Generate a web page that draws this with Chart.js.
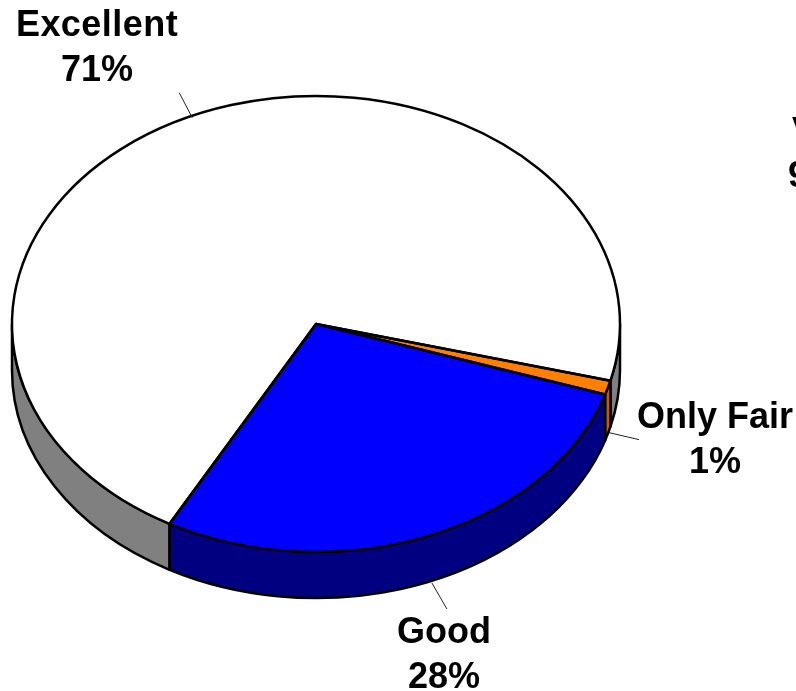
<!DOCTYPE html>
<html>
<head>
<meta charset="utf-8">
<style>
  html, body { margin: 0; padding: 0; background: #fff; overflow: hidden; }
  canvas { display: block; }
</style>
<script src="https://cdn.jsdelivr.net/npm/chart.js@4/dist/chart.umd.min.js"></script>
</head>
<body>
<canvas id="grafico" width="796" height="691"></canvas>
<script>
const categories = ['Excellent', 'Only Fair', 'Good'];
const values = [71, 1, 28];
const topColors = ['#FFFFFF', '#FF8000', '#0000FF'];
const wallColors = ['#808080', '#BF6000', '#000080'];

const squash = 0.75;   // tilt of the pie
const depth = 46;      // height of the wall
const labelFont = 'bold 36px "Liberation Sans", Arial, sans-serif';

// label placement, same order as categories
const leaderNudges = [[-3, 3], [1, -1], [4, 1]];
const leaderEnds = [[-13, -25], [30, 7], [15, 26]];
const labelCenters = [[97, 36], [715, 428], [444, 643]];
const labelSpacing = ['0.45px', '0px', '0px'];
const lineGap = 45;

const pie3d = {
    id: 'pie3d',
    beforeDatasetsDraw(chart) {
        const ctx = chart.ctx;
        const arcs = chart.getDatasetMeta(0).data;
        const cx = arcs[0].x, cy = arcs[0].y, rx = arcs[0].outerRadius, ry = rx * squash;

        // walls, only the front half of the ellipse shows
        arcs.forEach((arc, i) => {
            for (let k = -1; k < 3; k++) {
                const lo = k * 2 * Math.PI, hi = lo + Math.PI;
                const a = Math.max(arc.startAngle, lo), b = Math.min(arc.endAngle, hi);
                if (a >= b) continue;
                ctx.beginPath();
                ctx.ellipse(cx, cy, rx, ry, 0, a, b);
                ctx.ellipse(cx, cy + depth, rx, ry, 0, b, a, true);
                ctx.closePath();
                ctx.fillStyle = wallColors[i];
                ctx.fill();
                ctx.lineWidth = 2.5;
                ctx.lineJoin = 'round';
                ctx.strokeStyle = '#000';
                ctx.stroke();
            }
        });

        ctx.save();
        ctx.translate(0, cy);
        ctx.scale(1, squash);
        ctx.translate(0, -cy);
    },
    afterDatasetsDraw(chart) {
        const ctx = chart.ctx;
        ctx.restore();
        const arcs = chart.getDatasetMeta(0).data;
        const cx = arcs[0].x, cy = arcs[0].y, rx = arcs[0].outerRadius, ry = rx * squash;

        // outlines, after the transform so the line width stays even
        ctx.strokeStyle = '#000';
        ctx.lineWidth = 2.5;
        ctx.lineJoin = 'round';
        arcs.forEach(arc => {
            ctx.beginPath();
            ctx.moveTo(cx, cy);
            ctx.ellipse(cx, cy, rx, ry, 0, arc.startAngle, arc.endAngle);
            ctx.closePath();
            ctx.stroke();
        });

        // leader lines and labels
        arcs.forEach((arc, i) => {
            const mid = (arc.startAngle + arc.endAngle) / 2;
            const sx = cx + rx * Math.cos(mid) + leaderNudges[i][0];
            let sy = cy + ry * Math.sin(mid) + leaderNudges[i][1];
            if (Math.sin(mid) > 0) sy += depth;
            ctx.beginPath();
            ctx.moveTo(sx, sy);
            ctx.lineTo(sx + leaderEnds[i][0], sy + leaderEnds[i][1]);
            ctx.lineWidth = 1;
            ctx.strokeStyle = '#222';
            ctx.stroke();

            ctx.fillStyle = '#000';
            ctx.font = labelFont;
            ctx.textAlign = 'center';
            ctx.textBaseline = 'alphabetic';
            ctx.letterSpacing = labelSpacing[i];
            ctx.fillText(categories[i], labelCenters[i][0], labelCenters[i][1]);
            ctx.letterSpacing = '0px';
            ctx.fillText(values[i] + '%', labelCenters[i][0], labelCenters[i][1] + lineGap);
        });

        // label cut off by the right edge of the picture
        ctx.textAlign = 'left';
        ctx.fillText('V', 792, 143);
        ctx.fillText('9', 788, 187);
    }
};

new Chart(document.getElementById('grafico'), {
    type: 'pie',
    data: {
        labels: categories,
        datasets: [{
            data: values,
            backgroundColor: topColors,
            borderWidth: 0
        }]
    },
    options: {
        responsive: false,
        animation: false,
        rotation: 208.8,
        layout: { padding: { left: 12, right: 176, top: 20, bottom: 63 } },
        plugins: {
            legend: { display: false },
            tooltip: { enabled: false }
        }
    },
    plugins: [pie3d]
});
</script>
</body>
</html>
